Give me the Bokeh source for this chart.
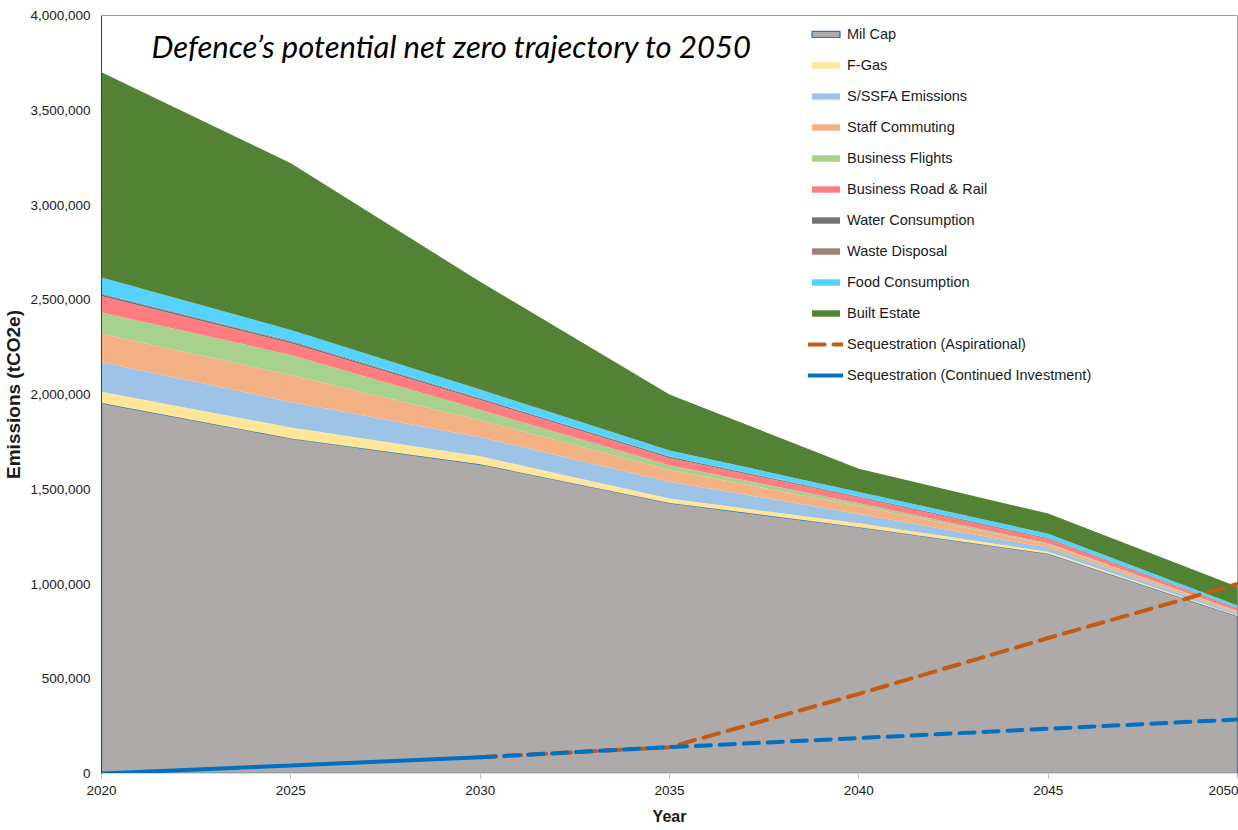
import numpy as np
from bokeh.plotting import figure
from bokeh.models import (NumeralTickFormatter, Span, Label,
                          SingleIntervalTicker, Range1d)
from bokeh.embed import file_html
from bokeh.resources import INLINE

# ---------------- data ----------------
years = [2020, 2025, 2030, 2035, 2040, 2045, 2050]
mil_cap = [1955000, 1768000, 1632000, 1428000, 1300000, 1160000, 830000]
f_gas = [60000, 58000, 42000, 23000, 20000, 10000, 5000]
ssfa = [155000, 135000, 100000, 88000, 50000, 22000, 10000]
staff_commuting = [150000, 142000, 90000, 62000, 41000, 18000, 10000]
business_flights = [113000, 106000, 55000, 26000, 15000, 5000, 3000]
business_road_rail = [86000, 62000, 52000, 38000, 30000, 22000, 13000]
water_consumption = [9000, 8000, 7000, 6000, 5000, 4000, 3000]
waste_disposal = [4000, 4000, 3000, 3000, 2000, 2000, 1000]
food_consumption = [85000, 58000, 45000, 31000, 23000, 22000, 12000]
built_estate = [1083000, 879000, 569000, 295000, 122000, 107000, 98000]
seq_aspirational = [0, 42000, 86000, 139000, 420000, 715000, 1000000]
seq_continued = [0, 42000, 86000, 139000, 187000, 236000, 285000]
y_ticks = list(range(0, 4000001, 500000))

stack_layers = [
    ("F-Gas", f_gas, "#FFE699"),
    ("S/SSFA Emissions", ssfa, "#9DC3E6"),
    ("Staff Commuting", staff_commuting, "#F4B183"),
    ("Business Flights", business_flights, "#A9D18E"),
    ("Business Road & Rail", business_road_rail, "#FF7C80"),
    ("Water Consumption", water_consumption, "#767171"),
    ("Waste Disposal", waste_disposal, "#9E8079"),
    ("Food Consumption", food_consumption, "#55D3FF"),
    ("Built Estate", built_estate, "#548235"),
]

SANS = "Liberation Sans"

p = figure(width=1238, height=830, output_backend="svg", toolbar_location=None,
           x_range=Range1d(2020, 2050), y_range=Range1d(0, 4000000),
           min_border_left=100, min_border_right=1, min_border_top=15,
           min_border_bottom=57)
p.outline_line_color = None
p.xgrid.visible = False
p.ygrid.visible = False
p.background_fill_color = "white"
p.border_fill_color = "white"

# Mil Cap (with blue outline)
xs_poly = years + years[::-1]
ys_poly = list(mil_cap) + [0] * len(years)
p.patch(xs_poly, ys_poly, fill_color="#AEAAAA", line_color="#2E75B6",
        line_width=1.3, legend_label="Mil Cap")

bottom = np.array(mil_cap, dtype=float)
for name, vals, col in stack_layers:
    top = bottom + np.array(vals, dtype=float)
    p.varea(x=years, y1=bottom, y2=top, fill_color=col, legend_label=name)
    bottom = top

# sequestration lines
p.line(years[2:], seq_aspirational[2:], line_color="#C55A11", line_width=4,
       line_dash="16 9", line_cap="round", legend_label="Sequestration (Aspirational)")
p.line(years[:3], seq_continued[:3], line_color="#0070C0", line_width=4,
       line_cap="round", legend_label="Sequestration (Continued Investment)")
p.line(years[2:], seq_continued[2:], line_color="#0070C0", line_width=4,
       line_dash="15 9", line_cap="round")

# frame borders (top/right)
p.add_layout(Span(location=4000000, dimension="width", line_color="#404040", line_width=1))
p.add_layout(Span(location=2050, dimension="height", line_color="#404040", line_width=1))

# axes
p.xaxis.ticker = SingleIntervalTicker(interval=5)
p.xaxis.minor_tick_line_color = None
p.xaxis.major_tick_out = 5
p.xaxis.major_tick_in = 0
p.xaxis.major_tick_line_color = "#BFBFBF"
p.xaxis.axis_line_color = "#D9D9D9"
p.xaxis.major_label_text_font = SANS
p.xaxis.major_label_text_font_size = "13.5px"
p.xaxis.major_label_text_color = "#1A1A1A"
p.xaxis.major_label_standoff = 7
p.xaxis.axis_label = "Year"
p.xaxis.axis_label_text_font = SANS
p.xaxis.axis_label_text_font_style = "bold"
p.xaxis.axis_label_text_font_size = "16px"
p.xaxis.axis_label_text_color = "#1A1A1A"
p.xaxis.axis_label_standoff = 10

p.yaxis.ticker = y_ticks
p.yaxis.formatter = NumeralTickFormatter(format="0,0")
p.yaxis.minor_tick_line_color = None
p.yaxis.major_tick_out = 0
p.yaxis.major_tick_in = 0
p.yaxis.axis_line_color = "#404040"
p.yaxis.major_label_text_font = SANS
p.yaxis.major_label_text_font_size = "13.5px"
p.yaxis.major_label_text_color = "#1A1A1A"
p.yaxis.major_label_standoff = 11
p.yaxis.axis_label = "Emissions (tCO2e)"
p.yaxis.axis_label_text_font = SANS
p.yaxis.axis_label_text_font_style = "bold"
p.yaxis.axis_label_text_font_size = "19px"
p.yaxis.axis_label_text_color = "#1A1A1A"
p.yaxis.axis_label_standoff = 3

# title inside the plot
p.add_layout(Label(x=50, y=728, x_units="screen", y_units="screen",
                   text="Defence\u2019s potential net zero trajectory to 2050",
                   text_font="Lato", text_font_style="italic",
                   text_font_size="31px", text_color="#000000",
                   text_baseline="middle"))

# legend
lg = p.legend[0]
lg.location = (707, 388)
lg.background_fill_alpha = 0
lg.border_line_color = None
lg.padding = 0
lg.margin = 0
lg.spacing = 11
lg.label_height = 20
lg.glyph_height = 8
lg.glyph_width = 35
lg.label_standoff = 4
lg.label_text_font = SANS
lg.label_text_font_size = "14.5px"
lg.label_text_color = "#1A1A1A"

open("out.html", "w").write(file_html(p, INLINE))
